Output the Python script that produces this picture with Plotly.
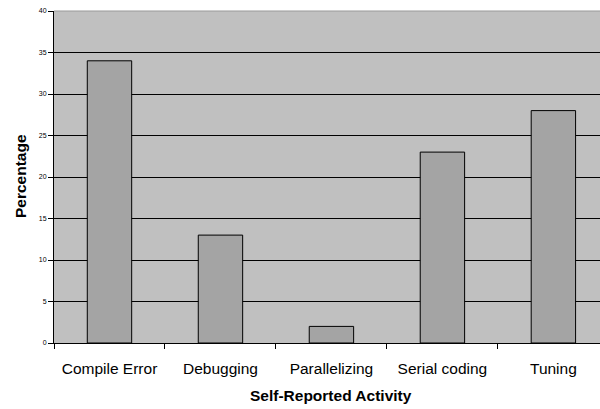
import plotly.graph_objects as go

activities = ["Compile Error", "Debugging", "Parallelizing", "Serial coding", "Tuning"]
percentages = [34, 13, 2, 23, 28]
y_ticks = [0, 5, 10, 15, 20, 25, 30, 35, 40]

# plotting-area geometry in pixels
LEFT, TOP, BOTTOM, WIDTH = 54, 11, 343, 546
HEIGHT = BOTTOM - TOP

fig = go.Figure()
fig.add_trace(go.Bar(
    x=activities,
    y=percentages,
    width=0.4,
    marker=dict(color="#a4a4a4", line=dict(color="#000000", width=1)),
))

fig.update_layout(
    width=600,
    height=409,
    margin=dict(l=LEFT, r=0, t=TOP, b=409 - BOTTOM),
    paper_bgcolor="#ffffff",
    plot_bgcolor="#c0c0c0",
    showlegend=False,
    font=dict(family="Liberation Sans, Arial, sans-serif", color="#000000"),
    xaxis=dict(
        range=[-0.5, 4.42],
        tickson="boundaries",
        ticks="outside",
        ticklen=5,
        tickcolor="#000000",
        tickfont=dict(size=15.5),
        ticklabelstandoff=11,
        showline=True,
        linecolor="#000000",
        linewidth=1,
        showgrid=False,
        zeroline=False,
    ),
    yaxis=dict(
        range=[0, 40],
        tickvals=y_ticks,
        ticks="outside",
        ticklen=5,
        tickcolor="#000000",
        tickfont=dict(size=7),
        showline=True,
        linecolor="#000000",
        linewidth=1,
        showgrid=True,
        gridcolor="#000000",
        gridwidth=1,
        zeroline=False,
    ),
    annotations=[
        dict(text="<b>Percentage</b>", xref="paper", yref="paper",
             x=(20 - LEFT) / WIDTH, y=(BOTTOM - 176) / HEIGHT,
             xanchor="center", yanchor="middle",
             showarrow=False, textangle=-90, font=dict(size=15.5)),
        dict(text="<b>Self-Reported Activity</b>", xref="paper", yref="paper",
             x=(331 - LEFT) / WIDTH, y=(BOTTOM - 395) / HEIGHT,
             xanchor="center", yanchor="middle",
             showarrow=False, font=dict(size=15.5)),
    ],
)

# light border line on top of plotting area
fig.add_shape(type="line", xref="paper", yref="paper", x0=0, x1=1, y0=1, y1=1,
              line=dict(color="#999999", width=1))

fig.write_html("out.html")
